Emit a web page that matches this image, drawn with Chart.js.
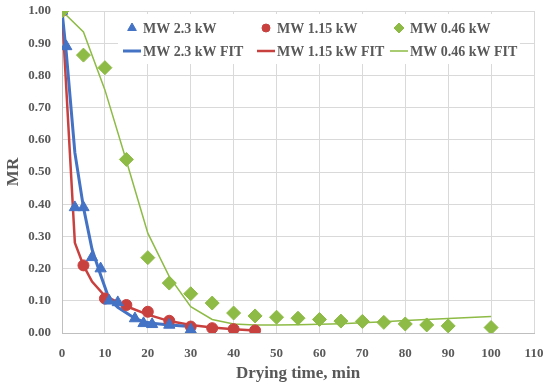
<!DOCTYPE html>
<html>
<head>
<meta charset="utf-8">
<script src="https://cdn.jsdelivr.net/npm/chart.js@4/dist/chart.umd.min.js"></script>
<style>
  html, body { margin: 0; padding: 0; background: #fff; }
  #wrap { width: 550px; height: 384px; }
</style>
</head>
<body>
<div id="wrap"><canvas id="mr-chart" width="550" height="384"></canvas></div>
<script>
// measured points
var blueTime = [0, 1, 3, 5, 7, 9, 11, 13, 17, 19, 21, 25, 30];
var blueMR = [1.00, 0.89, 0.39, 0.39, 0.235, 0.20, 0.10, 0.095, 0.045, 0.03, 0.027, 0.025, 0.01];
var redTime = [0, 5, 10, 15, 20, 25, 30, 35, 40, 45];
var redMR = [1.00, 0.21, 0.107, 0.087, 0.066, 0.038, 0.02, 0.015, 0.012, 0.008];
var greenTime = [0, 5, 10, 15, 20, 25, 30, 35, 40, 45, 50, 55, 60, 65, 70, 75, 80, 85, 90, 100];
var greenMR = [1.00, 0.863, 0.824, 0.539, 0.234, 0.155, 0.122, 0.093, 0.062, 0.053, 0.049, 0.046, 0.042, 0.037, 0.036, 0.033, 0.028, 0.025, 0.022, 0.017];

// fitted curves
var blueFitTime = [0, 1, 3, 5, 7, 9, 11, 13, 17, 19, 21, 25, 30];
var blueFitMR = [1.00, 0.87, 0.56, 0.39, 0.26, 0.18, 0.105, 0.08, 0.045, 0.035, 0.03, 0.025, 0.02];
var redFitTime = [0, 3, 5, 7, 10, 15, 20, 25, 30, 35, 40, 45];
var redFitMR = [1.00, 0.28, 0.21, 0.16, 0.115, 0.083, 0.057, 0.037, 0.025, 0.017, 0.012, 0.008];
var greenFitTime = [0, 5, 10, 15, 20, 25, 30, 35, 40, 45, 50, 55, 60, 65, 70, 75, 80, 85, 90, 95, 100];
var greenFitMR = [1.00, 0.935, 0.755, 0.535, 0.31, 0.175, 0.082, 0.042, 0.028, 0.025, 0.025, 0.026, 0.027, 0.029, 0.032, 0.035, 0.039, 0.042, 0.045, 0.048, 0.051];

var xTicks = [0, 10, 20, 30, 40, 50, 60, 70, 80, 90, 100, 110];

var BLUE = '#4472C4';
var RED = '#C9413F';
var GREEN = '#8DBB45';
var TXT = '#595959';
var SERIF = "'Liberation Serif', 'DejaVu Serif', serif";

function pts(xs, ys) {
    var out = [];
    for (var i = 0; i < xs.length; i++) out.push({ x: xs[i], y: ys[i] });
    return out;
}

// legend drawn inside the plot, two rows of three columns
var legendItems = [
    { text: 'MW 2.3 kW', style: 'triangle', color: BLUE, r: 5, col: 0, row: 0 },
    { text: 'MW 1.15 kW', style: 'circle', color: RED, r: 4, col: 1, row: 0 },
    { text: 'MW 0.46 kW', style: 'rectRot', color: GREEN, r: 5, col: 2, row: 0 },
    { text: 'MW 2.3 kW FIT', line: 3, color: BLUE, col: 0, row: 1 },
    { text: 'MW 1.15 kW FIT', line: 2.5, color: RED, col: 1, row: 1 },
    { text: 'MW 0.46 kW FIT', line: 1.5, color: GREEN, col: 2, row: 1 }
];
var inlineLegend = {
    id: 'inlineLegend',
    beforeDatasetsDraw: function (chart) {
        var ctx = chart.ctx;
        var colX = [143, 277, 410];
        var rowY = [28, 51];
        ctx.save();
        ctx.fillStyle = '#fff';
        ctx.fillRect(118, 14, 402, 50);
        ctx.font = 'bold 14px ' + SERIF;
        ctx.textBaseline = 'middle';
        ctx.textAlign = 'left';
        legendItems.forEach(function (it) {
            var x = colX[it.col];
            var y = rowY[it.row];
            if (it.line) {
                ctx.strokeStyle = it.color;
                ctx.lineWidth = it.line;
                ctx.beginPath();
                ctx.moveTo(x - 20, y);
                ctx.lineTo(x - 2, y);
                ctx.stroke();
            } else {
                ctx.fillStyle = it.color;
                ctx.strokeStyle = it.color;
                ctx.lineWidth = 1;
                Chart.helpers.drawPoint(ctx, { pointStyle: it.style, radius: it.r, rotation: 0, borderWidth: 1 }, x - 11, y);
            }
            ctx.fillStyle = TXT;
            ctx.fillText(it.text, x, y + 1);
        });
        ctx.restore();
    }
};

var ctx = document.getElementById('mr-chart').getContext('2d');
var chart = new Chart(ctx, {
    type: 'scatter',
    data: {
        datasets: [
            { label: 'MW 0.46 kW', data: pts(greenTime, greenMR), pointStyle: 'rectRot', pointRadius: 7, backgroundColor: GREEN, borderColor: GREEN, borderWidth: 1 },
            { label: 'MW 2.3 kW', data: pts(blueTime, blueMR), pointStyle: 'triangle', pointRadius: 6.5, backgroundColor: BLUE, borderColor: BLUE, borderWidth: 1 },
            { label: 'MW 1.15 kW', data: pts(redTime, redMR), pointStyle: 'circle', pointRadius: 5.5, backgroundColor: RED, borderColor: RED, borderWidth: 1 },
            { type: 'line', label: 'MW 2.3 kW FIT', data: pts(blueFitTime, blueFitMR), borderColor: BLUE, borderWidth: 3, pointRadius: 0, tension: 0, fill: false },
            { type: 'line', label: 'MW 1.15 kW FIT', data: pts(redFitTime, redFitMR), borderColor: RED, borderWidth: 2.5, pointRadius: 0, tension: 0, fill: false },
            { type: 'line', label: 'MW 0.46 kW FIT', data: pts(greenFitTime, greenFitMR), borderColor: GREEN, borderWidth: 1.5, pointRadius: 0, tension: 0, fill: false }
        ]
    },
    options: {
        responsive: false,
        animation: false,
        layout: { padding: { top: 11, right: 16, left: 0, bottom: 0 } },
        plugins: {
            legend: { display: false },
            tooltip: { enabled: false }
        },
        scales: {
            x: {
                type: 'linear',
                min: 0,
                max: 110,
                afterBuildTicks: function (s) {
                    s.ticks = xTicks.map(function (v) { return { value: v }; });
                },
                afterFit: function (s) {
                    s.height = 51;
                    s.paddingLeft = 0;
                    s.paddingRight = 0;
                },
                grid: { color: '#D9D9D9', drawTicks: false },
                border: { color: '#BFBFBF' },
                ticks: { padding: 13, color: TXT, font: { family: SERIF, size: 13, weight: 'bold' } },
                title: { display: true, text: 'Drying time, min', color: TXT, padding: { top: 2, bottom: 0 }, font: { family: SERIF, size: 17, weight: 'bold' } }
            },
            y: {
                min: 0,
                max: 1,
                ticks: {
                    stepSize: 0.1,
                    padding: 11,
                    color: TXT,
                    font: { family: SERIF, size: 13, weight: 'bold' },
                    callback: function (v) { return v.toFixed(2); }
                },
                afterFit: function (s) {
                    s.width = 62;
                    s.paddingTop = 0;
                    s.paddingBottom = 0;
                },
                grid: { color: '#D9D9D9', drawTicks: false },
                border: { color: '#BFBFBF' },
                title: { display: true, text: 'MR', color: TXT, padding: { top: 3, bottom: 0 }, font: { family: SERIF, size: 17, weight: 'bold' } }
            }
        }
    },
    plugins: [inlineLegend]
});
</script>
</body>
</html>
